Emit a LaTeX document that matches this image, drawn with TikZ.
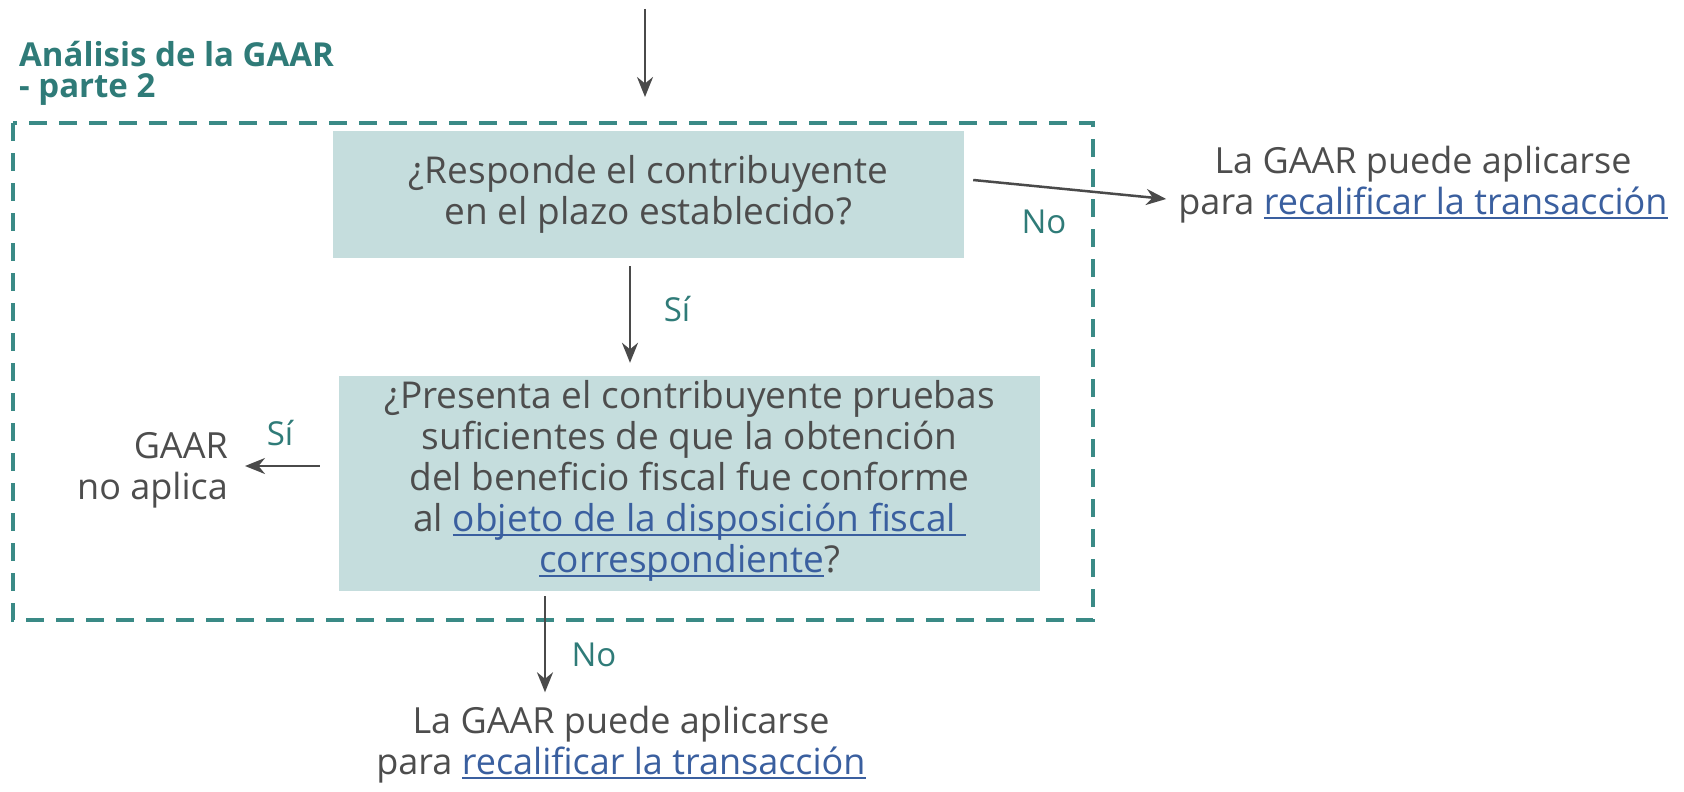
\documentclass[tikz,border=0pt]{standalone}
\usepackage{fontspec}
\setmainfont{Open Sans}
\usetikzlibrary{arrows.meta,positioning}

\definecolor{verde}{HTML}{2F7B78}
\definecolor{marco}{HTML}{3A8A86}
\definecolor{caja}{HTML}{C5DDDD}
\definecolor{texto}{HTML}{4D4D4D}
\definecolor{azulenlace}{HTML}{3A5F9F}
\definecolor{flecha}{HTML}{4A4A4A}

% texto subrayado como enlace
\newcommand{\enlace}[1]{\textcolor{azulenlace}{\setbox0=\hbox{#1}\rlap{\rule[-4pt]{\wd0}{1.5pt}}\box0}}

\begin{document}
\begin{tikzpicture}[
		x=1pt, y=-1pt,
		>={Stealth[length=20pt,width=16pt]},
		flujo/.style={->, draw=flecha, line width=2.5pt},
		pregunta/.style={rectangle, fill=caja, text=texto, align=center, inner sep=0pt,
			font=\fontsize{37}{41}\selectfont},
		salida/.style={text=texto, inner sep=0pt, font=\fontsize{36}{41}\selectfont},
		rotulo/.style={text=verde, inner sep=0pt, font=\fontsize{33}{34}\selectfont}
	]

	\useasboundingbox (0,0) rectangle (1684,792);

	% titulo y marco
	\node[anchor=north west, align=left, inner sep=0pt, text=verde,
		font=\fontsize{33}{31}\selectfont\bfseries] (titulo) at (19,41) {Análisis de la GAAR\\- parte 2};
	\draw[marco, line width=4pt, dash pattern=on 18pt off 12pt] (13,123) rectangle (1093,620);

	% preguntas
	\node[pregunta, minimum width=631, minimum height=127] (preg1) at (648.5,194.5)
		{¿Responde el contribuyente\\en el plazo establecido?};
	\node[pregunta, minimum width=701, minimum height=215, text depth=14pt] (preg2) at (689.5,483.5)
		{¿Presenta el contribuyente pruebas\\suficientes de que la obtención\\del beneficio fiscal fue conforme\\al \enlace{objeto de la disposición fiscal }\\\enlace{correspondiente}?};

	% resultados
	\node[salida, align=center] (res1) at (1423,185) {La GAAR puede aplicarse\\para \enlace{recalificar la transacción}};
	\node[salida, align=right, anchor=east] (res2) at (228,470) {GAAR\\no aplica};
	\node[salida, align=center] (res3) at (621,745) {La GAAR puede aplicarse\\para \enlace{recalificar la transacción}};

	% flechas
	\coordinate (entrada) at (645,9);
	\coordinate (llegada) at (645,97);
	\draw[flujo] (entrada) -- (llegada);
	\draw[flujo] ([shift={(9,-14.5)}]preg1.east) -- ([shift={(-12,14)}]res1.west);
	\draw[flujo] ([shift={(-18.5,8)}]preg1.south) -- ([shift={(-59.5,-13)}]preg2.north);
	\draw[flujo] ([shift={(-19,-17.5)}]preg2.west) -- ([shift={(17,-4)}]res2.east);
	\draw[flujo] ([shift={(-144.5,5)}]preg2.south) -- ([shift={(-76,-14)}]res3.north);

	% etiquetas
	\node[rotulo] (no1) at (1044,222) {No};
	\node[rotulo] (si1) at (677,309) {Sí};
	\node[rotulo] (si2) at (280,433) {Sí};
	\node[rotulo] (no2) at (594,655) {No};

\end{tikzpicture}
\end{document}
